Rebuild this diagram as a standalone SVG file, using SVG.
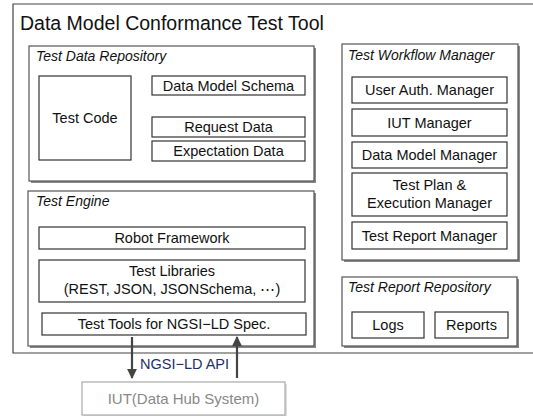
<svg xmlns="http://www.w3.org/2000/svg" width="533" height="416" viewBox="0 0 533 416">
<defs>
<style>
text{font-family:"Liberation Sans",Arial,sans-serif;fill:#111;}
.t{font-size:14.5px;text-anchor:middle;}
.h{font-size:14px;font-style:italic;}
.grp{fill:#fff;stroke:#555;stroke-width:1.2;}
.sh{fill:#888;}
.box{fill:#fff;stroke:#333;stroke-width:1.2;}
.conn{stroke:#444;stroke-width:2.2;fill:none;}
</style>
<marker id="ah" viewBox="0 0 10 10" refX="9" refY="5" markerWidth="4.5" markerHeight="4.5" orient="auto" markerUnits="strokeWidth">
<path d="M0,0 L10,5 L0,10 z" fill="#444"/>
</marker>
</defs>
<rect width="533" height="416" fill="#fff"/>
<g id="outer">
<path d="M533,4 H13 V353 H533" fill="none" stroke="#444" stroke-width="1.2"/>
<text x="20" y="30" style="font-size:19.5px">Data Model Conformance Test Tool</text>
</g>
<g id="test-data-repository">
<rect class="sh" x="31" y="48" width="285" height="135"/>
<rect class="grp" x="29" y="46" width="285" height="135"/>
<text class="h" x="36" y="61">Test Data Repository</text>
</g>
<g id="test-code"><rect class="box" x="39" y="76" width="92" height="84"/><text class="t" x="85" y="123">Test Code</text></g>
<g id="data-model-schema"><rect class="box" x="152" y="76" width="153" height="19"/><text class="t" x="228.5" y="90.5">Data Model Schema</text></g>
<g id="request-data"><rect class="box" x="152" y="117" width="153" height="20"/><text class="t" x="228.5" y="132">Request Data</text></g>
<g id="expectation-data"><rect class="box" x="152" y="141" width="153" height="20"/><text class="t" x="228.5" y="156">Expectation Data</text></g>

<g id="test-workflow-manager">
<rect class="sh" x="344" y="46" width="176" height="216"/>
<rect class="grp" x="342" y="44" width="176" height="216"/>
<text class="h" x="348" y="60">Test Workflow Manager</text>
</g>
<g id="user-auth-manager"><rect class="box" x="352" y="77" width="155" height="26"/><text class="t" x="429.5" y="95">User Auth. Manager</text></g>
<g id="iut-manager"><rect class="box" x="352" y="109" width="155" height="27"/><text class="t" x="429.5" y="127.5">IUT Manager</text></g>
<g id="data-model-manager"><rect class="box" x="352" y="142" width="155" height="26"/><text class="t" x="429.5" y="160">Data Model Manager</text></g>
<g id="test-plan-manager"><rect class="box" x="352" y="173" width="155" height="43"/><text class="t" x="429.5" y="190">Test Plan &amp;</text><text class="t" x="429.5" y="208">Execution Manager</text></g>
<g id="test-report-manager"><rect class="box" x="352" y="222" width="155" height="27"/><text class="t" x="429.5" y="240.5">Test Report Manager</text></g>

<g id="test-report-repository">
<rect class="sh" x="344" y="279" width="175" height="69"/>
<rect class="grp" x="342" y="277" width="175" height="69"/>
<text class="h" x="348" y="292">Test Report Repository</text>
</g>
<g id="logs"><rect class="box" x="352" y="312" width="72" height="26"/><text class="t" x="388" y="330">Logs</text></g>
<g id="reports"><rect class="box" x="435" y="312" width="73" height="26"/><text class="t" x="471.5" y="330">Reports</text></g>

<g id="test-engine">
<rect class="sh" x="30" y="193" width="286" height="155"/>
<rect class="grp" x="28" y="191" width="286" height="155"/>
<text class="h" x="36" y="206">Test Engine</text>
</g>
<g id="robot-framework"><rect class="box" x="39" y="227" width="266" height="22"/><text class="t" x="172" y="243">Robot Framework</text></g>
<g id="test-libraries"><rect class="box" x="39" y="260" width="266" height="42"/><text class="t" x="172" y="276">Test Libraries</text><text class="t" x="172" y="294">(REST, JSON, JSONSchema, ⋯)</text></g>
<g id="test-tools"><rect class="box" x="42" y="313" width="264" height="22"/><text class="t" x="174" y="329">Test Tools for NGSI−LD Spec.</text></g>

<g id="iut">
<rect x="84" y="384" width="203" height="33" fill="#ddd"/>
<rect x="82" y="382" width="203" height="33" fill="#fff" stroke="#aaa" stroke-width="1.2"/>
<text class="t" x="183.5" y="404" style="fill:#888;font-size:15px">IUT(Data Hub System)</text>
</g>

<g id="connectors">
<line class="conn" x1="132" y1="337" x2="132" y2="378" marker-end="url(#ah)"/>
<line class="conn" x1="237" y1="378" x2="237" y2="337" marker-end="url(#ah)"/>
<text x="140" y="369" style="font-size:14.5px;fill:#1c2f6b">NGSI−LD API</text>
</g>
</svg>
